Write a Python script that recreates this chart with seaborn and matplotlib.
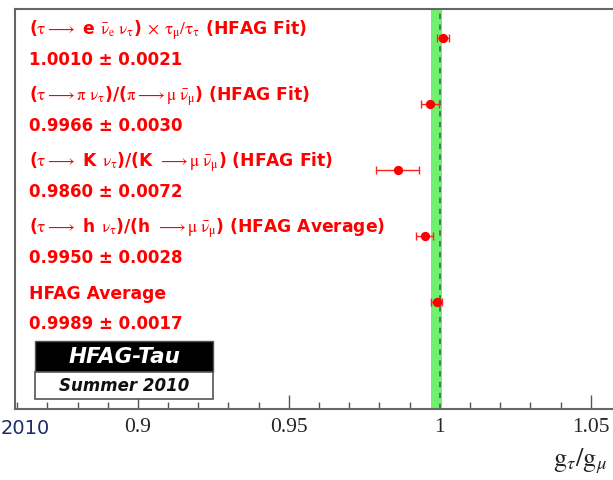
import matplotlib
matplotlib.use("Agg")
import matplotlib.pyplot as plt
import seaborn as sns
import pandas as pd
import numpy as np
from matplotlib.patches import Rectangle

# ---- data ----
labels = [
    r"($\mathrm{\tau} \longrightarrow$ e $\bar{\mathrm{\nu}}_{\mathrm{e}}\ \mathrm{\nu}_{\mathrm{\tau}}$) $\times$ $\mathrm{\tau}_{\mathrm{\mu}}/\mathrm{\tau}_{\mathrm{\tau}}$ (HFAG Fit)",
    r"($\mathrm{\tau} \longrightarrow \mathrm{\pi}\ \mathrm{\nu}_{\mathrm{\tau}}$)/($\mathrm{\pi} \longrightarrow \mathrm{\mu}\ \bar{\mathrm{\nu}}_{\mathrm{\mu}}$) (HFAG Fit)",
    r"($\mathrm{\tau} \longrightarrow$ K $\mathrm{\nu}_{\mathrm{\tau}}$)/(K $\longrightarrow \mathrm{\mu}\ \bar{\mathrm{\nu}}_{\mathrm{\mu}}$) (HFAG Fit)",
    r"($\mathrm{\tau} \longrightarrow$ h $\mathrm{\nu}_{\mathrm{\tau}}$)/(h $\longrightarrow \mathrm{\mu}\ \bar{\mathrm{\nu}}_{\mathrm{\mu}}$) (HFAG Average)",
    "HFAG Average",
]
values = [1.0010, 0.9966, 0.9860, 0.9950, 0.9989]
errors = [0.0021, 0.0030, 0.0072, 0.0028, 0.0017]
value_texts = ["1.0010 \u00b1 0.0021", "0.9966 \u00b1 0.0030", "0.9860 \u00b1 0.0072",
               "0.9950 \u00b1 0.0028", "0.9989 \u00b1 0.0017"]
avg_value = 0.9989
avg_error = 0.0017
xticks = [0.9, 0.95, 1.0, 1.05]
xticklabels = ["0.9", "0.95", "1", "1.05"]

sns.set_theme(style="white")
plt.rcParams["font.family"] = ["DejaVu Sans"]
plt.rcParams["mathtext.fontset"] = "stix"

rows = list(range(len(values), 0, -1))
df = pd.DataFrame({"value": values, "error": errors, "row": rows})

fig = plt.figure(figsize=(6.13, 4.81), dpi=100)
ax = fig.add_axes([15/613, 71/481, 606/613, 400/481])

ax.axvspan(avg_value - avg_error, avg_value + avg_error, color="#6ff06f", zorder=1, lw=0)
ax.axvline(1.0, color="#3d7a4a", ls=(0, (3, 3)), lw=1.3, zorder=2)

ax.errorbar(df["value"], df["row"], xerr=df["error"], fmt="none", ecolor="#ff2020",
            elinewidth=1.0, capsize=3, capthick=1.0, zorder=3)
sns.scatterplot(data=df, x="value", y="row", ax=ax, color="#ff0000", s=45,
                edgecolor="#ff0000", linewidth=0, zorder=4, legend=False)

ax.set_xlim(0.8593, 1.0600)
ax.set_ylim(-0.62, 5.44)
ax.set_xlabel("")
ax.set_ylabel("")
ax.set_yticks([])
ax.set_xticks(xticks)
ax.set_xticklabels(xticklabels, fontfamily="Liberation Serif", fontsize=15.5)
ax.set_xticks(np.arange(0.86, 1.06, 0.01), minor=True)
ax.tick_params(axis="x", which="major", direction="in", length=10, width=1.0,
               color="#555555", pad=6, bottom=True)
ax.tick_params(axis="x", which="minor", direction="in", length=5, width=1.0,
               color="#555555", bottom=True)
for side in ["left", "bottom", "top", "right"]:
    ax.spines[side].set_color("#666666")
    ax.spines[side].set_linewidth(1.5)

for r, lab, vt in zip(rows, labels, value_texts):
    ax.text(0.8640, r + 0.14, lab, color="#ff0000", fontsize=12.3, fontweight="bold",
            va="center", ha="left")
    ax.text(0.8640, r - 0.31, vt, color="#ff0000", fontsize=12, fontweight="bold",
            va="center", ha="left")

# HFAG-Tau stamp
fig.patches.append(Rectangle((35/613, 1 - 373/481), 178/613, 31/481, transform=fig.transFigure,
                             facecolor="black", edgecolor="#555555", lw=1))
fig.patches.append(Rectangle((35/613, 1 - 400/481), 178/613, 27/481, transform=fig.transFigure,
                             facecolor="white", edgecolor="#555555", lw=1.2))
fig.text(124/613, 1 - 357/481, "HFAG-Tau", color="white", fontsize=15.5, fontweight="bold",
         fontstyle="italic", ha="center", va="center")
fig.text(124/613, 1 - 386/481, "Summer 2010", color="#111111", fontsize=12, fontweight="bold",
         fontstyle="italic", ha="center", va="center")

fig.text(1/613, 1 - 428/481, "2010", color="#1c2b6b", fontsize=14, ha="left", va="center")
fig.text(553/613, 1 - 461/481, r"$\mathrm{g}_{\tau}/\mathrm{g}_{\mu}$", color="#222222",
         fontsize=19, ha="left", va="center")

fig.savefig("out.png", dpi=100)
